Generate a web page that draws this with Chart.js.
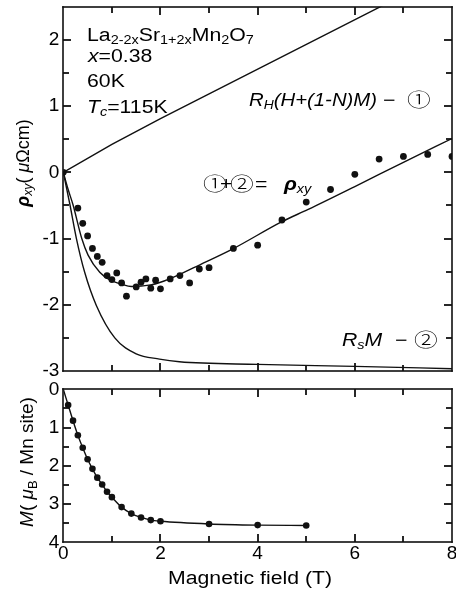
<!DOCTYPE html>
<html><head><meta charset="utf-8">
<script src="https://cdn.jsdelivr.net/npm/chart.js@4.4.0/dist/chart.umd.min.js"></script>
<style>
html,body{margin:0;padding:0;background:#fff;}
#wrap{position:relative;width:456px;height:595px;overflow:hidden;font-family:"Liberation Sans",Arial,sans-serif;color:#000;}
.box{position:absolute;left:0;width:456px;}
.t{position:absolute;white-space:nowrap;font-size:18px;line-height:18px;transform-origin:0 0;transform:scaleX(1.18);}
.t sub{font-size:0.68em;vertical-align:-0.28em;line-height:0;}
.c{font-family:"Noto Sans CJK JP","DejaVu Sans",sans-serif;font-weight:300;font-size:19px;transform:scaleX(1.25);}
.rot{position:absolute;white-space:nowrap;font-size:18px;line-height:18px;transform-origin:50% 50%;transform:translate(-50%,-50%) rotate(-90deg);}
.rot sub{font-size:0.68em;vertical-align:-0.28em;line-height:0;}
</style></head><body>
<div id="wrap">
<div class="box" style="top:0;height:380px"><canvas id="c1"></canvas></div>
<div class="box" style="top:380px;height:215px"><canvas id="c2"></canvas></div>

<div class="t" style="left:86.7px;top:25.5px">La<sub>2-2x</sub>Sr<sub>1+2x</sub>Mn<sub>2</sub>O<sub>7</sub></div>
<div class="t" style="left:88px;top:46.5px"><i>x</i>=0.38</div>
<div class="t" style="left:87.3px;top:72px">60K</div>
<div class="t" style="left:87.3px;top:97.5px"><i>T</i><sub><i>c</i></sub>=115K</div>

<div class="t" style="left:249px;top:91px;transform:scaleX(1.13)"><i>R<sub>H</sub>(H+(1-N)M)</i></div>
<div class="t" style="left:383px;top:91px">−</div>
<div class="t c" style="left:407px;top:90px">①</div>

<div class="t c" style="left:203px;top:174px">①</div>
<div class="t" style="left:220px;top:175px">+</div>
<div class="t c" style="left:230px;top:174px">②</div>
<div class="t" style="left:255px;top:175px">=</div>
<div class="t" style="left:284px;top:175px"><b><i>ρ</i></b><sub><i>xy</i></sub></div>

<div class="t" style="left:342px;top:331px"><i>R<sub>s</sub>M</i></div>
<div class="t" style="left:395px;top:331px">−</div>
<div class="t c" style="left:414px;top:330px">②</div>

<div class="rot" style="left:23px;top:163px"><b><i>ρ</i></b><sub><i>xy</i></sub>( <i>μ</i>Ωcm)</div>
<div class="rot" style="left:27px;top:461.5px;font-size:19px"><i>M</i>( <i>μ</i><sub>B</sub> / Mn site)</div>
<div class="t" style="left:168px;top:569.3px">Magnetic field (T)</div>
</div>
<script>
// ---- data ----
const rhoField = [0,0.3,0.4,0.5,0.6,0.7,0.8,0.9,1.0,1.1,1.2,1.3,1.5,1.6,1.7,1.8,1.9,2.0,2.2,2.4,2.6,2.8,3.0,3.5,4.0,4.5,5.0,5.5,6.0,6.5,7.0,7.5,8.0];
const rhoXY    = [0,-0.54,-0.77,-0.96,-1.15,-1.27,-1.36,-1.56,-1.62,-1.52,-1.67,-1.87,-1.73,-1.66,-1.61,-1.75,-1.63,-1.76,-1.61,-1.56,-1.67,-1.46,-1.44,-1.15,-1.10,-0.72,-0.45,-0.26,-0.03,0.20,0.24,0.27,0.24];

const fitField = [0,0.1,0.2,0.38,0.51,0.75,0.955,1.2,1.4,1.8,2.0,2.4,2.8,3.48,4.5,5.04,6,7,8];
const fitRho   = [0,-0.26,-0.49,-1.0,-1.25,-1.51,-1.625,-1.69,-1.725,-1.70,-1.66,-1.54,-1.40,-1.16,-0.745,-0.56,-0.215,0.15,0.51];

const rsmField = [0,0.137,0.27,0.44,0.68,1.06,1.5,1.98,2.39,4,6,8];
const rsmRho   = [0,-0.49,-1.0,-1.51,-2.01,-2.5,-2.74,-2.82,-2.86,-2.90,-2.93,-2.965];

const rhField  = [0,1,2,8];
const rhRho    = [0,0.42,0.81,3.05];

const magField = [0,0.1,0.2,0.3,0.4,0.5,0.6,0.7,0.8,0.9,1.0,1.2,1.4,1.6,1.8,2.0,3,4,5];
const magM     = [0,0.41,0.82,1.20,1.53,1.83,2.08,2.31,2.49,2.68,2.82,3.08,3.25,3.35,3.42,3.45,3.52,3.55,3.56];

const rhoTickLabels = [-3,-2,-1,0,1,2];
const magTickLabels = [0,1,2,3,4];
const fieldTickLabels = [0,2,4,6,8];
const fieldTickMarks = [1,2,3,4,5,6,7];
const rhoTickMarks = [-2.5,-2,-1.5,-1,-0.5,0,0.5,1,1.5,2];
const magTickMarks = [0.5,1,1.5,2,2.5,3,3.5];

const pts = (xs, ys) => xs.map((x,i)=>({x, y: ys[i]}));
const INK = '#111';

function makeFrame(xMarks, xMajor, yMarks, yMajor) {
  return {
    id: 'frameTicks',
    afterDraw(chart) {
      const ctx = chart.ctx, a = chart.chartArea;
      const xs = chart.scales.x, ys = chart.scales.y;
      const L0 = Math.round(a.left), R0 = Math.round(a.right);
      const T0 = Math.round(a.top), B0 = Math.round(a.bottom);
      const xPix = v => L0 + (R0 - L0) * (v - xs.min) / (xs.max - xs.min);
      ctx.save();
      ctx.fillStyle = INK;
      for (const v of xMarks) {
        const p = Math.round(xPix(v));
        const L = xMajor.indexOf(v) >= 0 ? 8 : 6;
        ctx.fillRect(p - 0.9, T0, 1.8, L);
        ctx.fillRect(p - 0.9, B0 - L, 1.8, L);
      }
      for (const v of yMarks) {
        const p = Math.round(ys.getPixelForValue(v));
        const L = yMajor.indexOf(v) >= 0 ? 8 : 6;
        ctx.fillRect(L0, p - 0.9, L, 1.8);
        ctx.fillRect(R0 - L, p - 0.9, L, 1.8);
      }
      ctx.fillRect(L0 - 0.8, T0 - 0.8, R0 - L0 + 1.6, 1.6);
      ctx.fillRect(L0 - 0.8, B0 - 0.8, R0 - L0 + 1.6, 1.6);
      ctx.fillRect(L0 - 0.8, T0 - 0.8, 1.6, B0 - T0 + 1.6);
      ctx.fillRect(R0 - 0.8, T0 - 0.8, 1.6, B0 - T0 + 1.6);
      ctx.restore();
    }
  };
}

const tickFont = {family: '"Liberation Sans", Arial, sans-serif', size: 19};

const lineDs = (label, xs, ys, interp) => ({
  label, data: pts(xs, ys), borderColor: INK, borderWidth: 1.4,
  pointRadius: 0, cubicInterpolationMode: interp, tension: 0, fill: false
});

new Chart(document.getElementById('c1'), {
  type: 'line',
  data: { datasets: [
    lineDs('RH(H+(1-N)M)', rhField, rhRho, 'default'),
    lineDs('RsM', rsmField, rsmRho, 'monotone'),
    lineDs('fit', fitField, fitRho, 'monotone'),
    { label: 'rho_xy', data: pts(rhoField, rhoXY), showLine: false,
      pointRadius: 3.4, pointBackgroundColor: INK, pointBorderWidth: 0, borderColor: INK }
  ]},
  options: {
    responsive: true, maintainAspectRatio: false, animation: false,
    layout: { padding: { left: 0, right: 2, top: 6.7, bottom: 9 } },
    plugins: { legend: {display: false}, tooltip: {enabled: false} },
    scales: {
      x: { type: 'linear', min: 0, max: 8, display: false },
      y: { type: 'linear', min: -3, max: 2.5,
        grid: {display: false, drawTicks: false}, border: {display: false},
        ticks: { font: tickFont, color: '#000', padding: 4 },
        afterBuildTicks: s => { s.ticks = rhoTickLabels.map(v => ({value: v})); },
        afterFit: s => { s.width = 63.3; s.paddingTop = 0; s.paddingBottom = 0; } }
    }
  },
  plugins: [makeFrame(fieldTickMarks, [2,4,6], rhoTickMarks, rhoTickLabels)]
});

new Chart(document.getElementById('c2'), {
  type: 'line',
  data: { datasets: [
    { label: 'M', data: pts(magField, magM), borderColor: INK, borderWidth: 1.4,
      pointRadius: ctx => (ctx.raw && ctx.raw.x === 0) ? 0 : 3.3,
      pointBackgroundColor: INK, pointBorderWidth: 0, cubicInterpolationMode: 'monotone', fill: false }
  ]},
  options: {
    responsive: true, maintainAspectRatio: false, animation: false,
    layout: { padding: { left: 0, right: 2, top: 9.3, bottom: 0 } },
    plugins: { legend: {display: false}, tooltip: {enabled: false} },
    scales: {
      x: { type: 'linear', min: 0, max: 8,
        grid: {display: false, drawTicks: false}, border: {display: false},
        ticks: { font: tickFont, color: '#000', padding: 0, maxRotation: 0 },
        afterBuildTicks: s => { s.ticks = fieldTickLabels.map(v => ({value: v})); },
        afterFit: s => { s.height = 52.7; s.paddingLeft = 0; s.paddingRight = 0; } },
      y: { type: 'linear', min: 0, max: 4, reverse: true,
        grid: {display: false, drawTicks: false}, border: {display: false},
        ticks: { font: tickFont, color: '#000', padding: 4 },
        afterBuildTicks: s => { s.ticks = magTickLabels.map(v => ({value: v})); },
        afterFit: s => { s.width = 63.3; s.paddingTop = 0; s.paddingBottom = 0; } }
    }
  },
  plugins: [makeFrame(fieldTickMarks, [2,4,6], magTickMarks, magTickLabels)]
});
</script>
</body></html>
